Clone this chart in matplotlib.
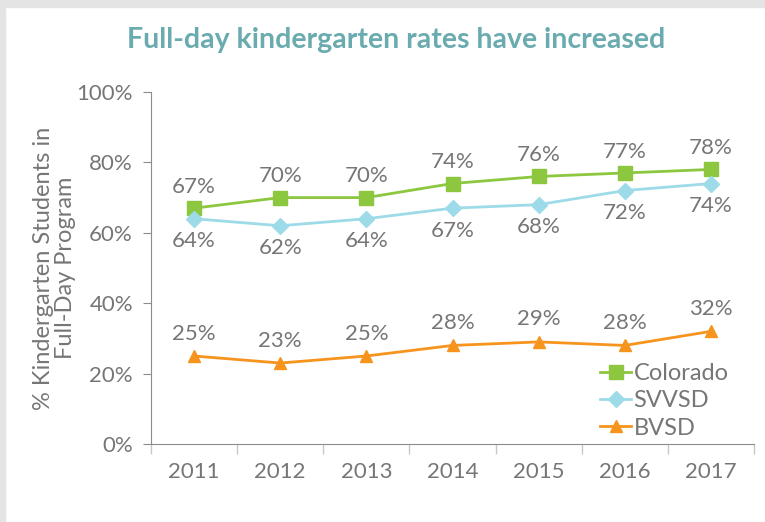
import matplotlib.pyplot as plt
import matplotlib.patches as mpatches
import numpy as np

plt.rcParams['font.family'] = ['Lato', 'DejaVu Sans']

years = ['2011', '2012', '2013', '2014', '2015', '2016', '2017']
colorado = [67, 70, 70, 74, 76, 77, 78]
svvsd = [64, 62, 64, 67, 68, 72, 74]
bvsd = [25, 23, 25, 28, 29, 28, 32]

gray = '#767676'
axis_gray = '#8c8c8c'

fig = plt.figure(figsize=(7.65, 5.22), dpi=100)
# light frame strips at top and left edge
fig.patches.append(mpatches.Rectangle((0, 1 - 7 / 522), 1, 7 / 522, transform=fig.transFigure,
                                      color='#e4e4e4', zorder=0))
fig.patches.append(mpatches.Rectangle((0, 0), 5 / 765, 1, transform=fig.transFigure,
                                      color='#e4e4e4', zorder=0))

ax = fig.add_axes([151 / 765, 1 - 444 / 522, 603 / 765, 352 / 522])
x = np.arange(len(years))

ax.plot(x, colorado, color='#8dc63f', lw=2, marker='s', ms=10, label='Colorado')
ax.plot(x, svvsd, color='#9ddbe8', lw=2, marker='D', ms=8, label='SVVSD')
ax.plot(x, bvsd, color='#f7941d', lw=2, marker='^', ms=9, label='BVSD')

for i in range(len(years)):
    ax.annotate(f'{colorado[i]}%', (x[i], colorado[i]), xytext=(0, 8), textcoords='offset points',
                ha='center', va='bottom', fontsize=16, color=gray)
    ax.annotate(f'{svvsd[i]}%', (x[i], svvsd[i]), xytext=(0, -9), textcoords='offset points',
                ha='center', va='top', fontsize=16, color=gray)
    ax.annotate(f'{bvsd[i]}%', (x[i], bvsd[i]), xytext=(0, 9), textcoords='offset points',
                ha='center', va='bottom', fontsize=16, color=gray)

ax.set_xlim(-0.5, 6.5)
ax.set_ylim(0, 100)
ax.set_yticks(np.arange(0, 101, 20))
ax.set_yticklabels([f'{v}%' for v in range(0, 101, 20)])
ax.set_xticks(np.arange(-0.5, 7, 1))
ax.set_xticklabels([])
ax.set_xticks(x, minor=True)
ax.set_xticklabels(years, minor=True)
ax.tick_params(axis='x', which='major', length=7, color='#c8c8c8', width=1)
ax.tick_params(axis='x', which='minor', length=0, pad=13, labelsize=16, labelcolor=gray)
ax.tick_params(axis='y', length=6, color=axis_gray, labelsize=16, labelcolor=gray, pad=7)

for s in ['top', 'right']:
    ax.spines[s].set_visible(False)
ax.spines['left'].set_color(axis_gray)
ax.spines['bottom'].set_color(axis_gray)

ax.set_ylabel('% Kindergarten Students in\nFull-Day Program', fontsize=17, color=gray,
              linespacing=1.1, labelpad=0)

leg = ax.legend(loc='lower right', bbox_to_anchor=(0.985, -0.032), frameon=False, fontsize=17,
                labelcolor=gray, handlelength=1.3, handletextpad=0.1, labelspacing=0.27,
                borderaxespad=0.3)

fig.text(396 / 765, 1 - 40 / 522, 'Full-day kindergarten rates have increased', ha='center',
         va='center', fontsize=20.5, fontweight='bold', color='#6aabb0')

fig.savefig('out.png', dpi=100)
